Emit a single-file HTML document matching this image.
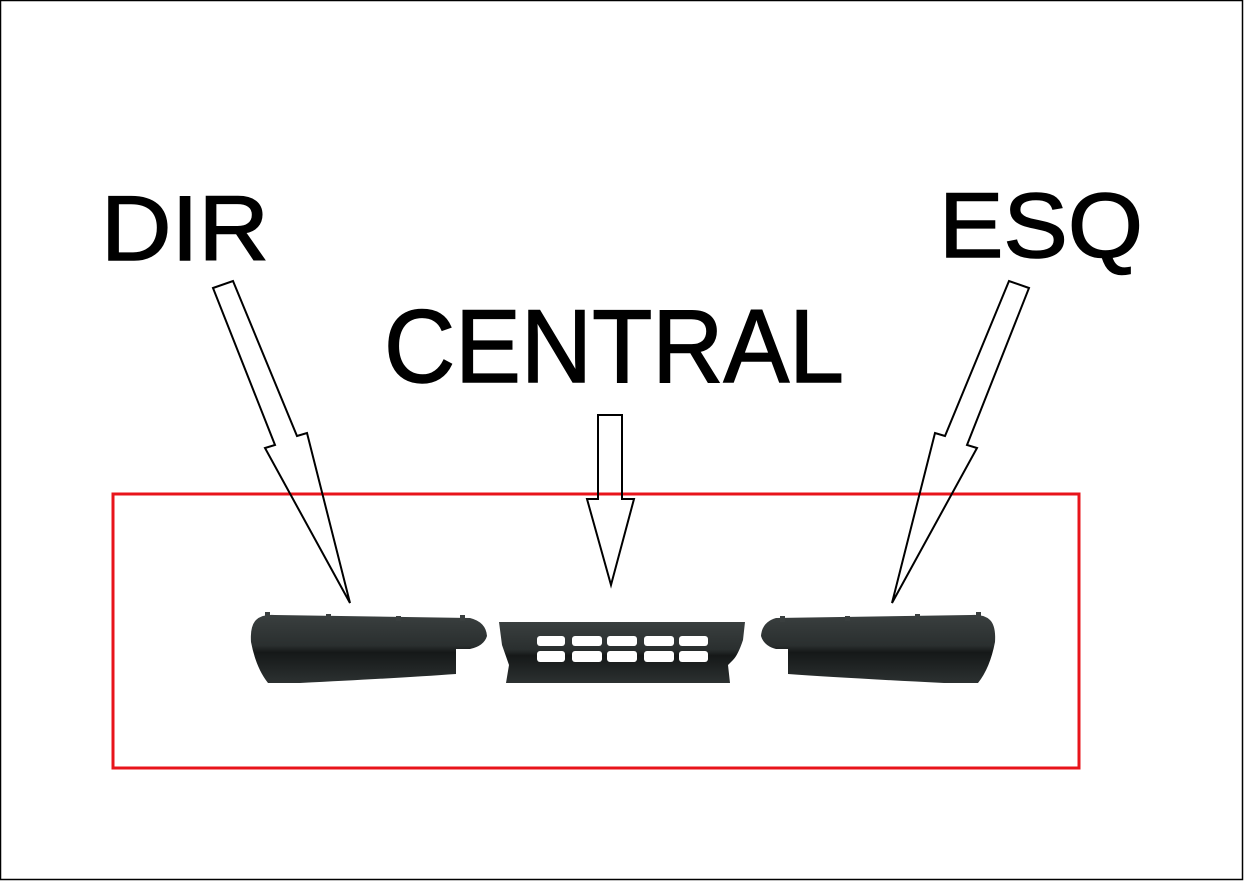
<!DOCTYPE html>
<html><head><style>html,body{margin:0;padding:0;background:#fff}svg{display:block}</style></head>
<body>
<svg width="1244" height="881" viewBox="0 0 1244 881" xmlns="http://www.w3.org/2000/svg">
<defs>
<linearGradient id="g" x1="0" y1="0" x2="0" y2="1">
<stop offset="0" stop-color="#3a3f3f"/><stop offset="0.45" stop-color="#2a2f2f"/><stop offset="0.55" stop-color="#151818"/><stop offset="1" stop-color="#2c3131"/>
</linearGradient>
</defs>
<rect x="0.5" y="0.5" width="1242" height="879" fill="#fff" stroke="#000" stroke-width="1.5"/>
<g font-family="Liberation Sans, sans-serif" fill="#000" stroke="#000" stroke-width="1.5">
<text x="101" y="260" font-size="92" textLength="168" lengthAdjust="spacingAndGlyphs">DIR</text>
<text x="939" y="257" font-size="92" textLength="204" lengthAdjust="spacingAndGlyphs">ESQ</text>
<text x="384" y="382" font-size="104" textLength="460" lengthAdjust="spacingAndGlyphs">CENTRAL</text>
</g>
<rect x="113" y="494" width="966" height="274" fill="none" stroke="#e8141b" stroke-width="3"/>
<g fill="none" stroke="#000" stroke-width="2" stroke-linejoin="miter">
<polygon points="213,288 233,281 297,436 307,433 350,603 265,448 275,445"/>
<polygon points="1029,288 1009,281 945,436 935,433 892,603 977,448 967,445"/>
<polygon points="598,415 622,415 622,499 634,499 611,585 587,499 598,499"/>
</g>
<!-- left bumper -->
<path d="M256,620 Q262,614 275,615 L470,618 Q486,622 487,636 Q484,646 470,649 L456,649 L456,674 Q400,678 300,683 L268,683 Q256,668 251,642 Q250,626 256,620 Z" fill="url(#g)"/>
<g fill="#3a3f3f"><rect x="265" y="612" width="5" height="6"/><rect x="326" y="614" width="5" height="6"/><rect x="396" y="616" width="5" height="5"/><rect x="460" y="615" width="5" height="6"/></g>
<!-- right bumper -->
<path d="M990,620 Q984,614 971,615 L776,618 Q762,622 761,636 Q764,646 776,649 L788,649 L788,674 Q844,678 944,683 L978,683 Q990,668 995,642 Q996,626 990,620 Z" fill="url(#g)"/>
<g fill="#3a3f3f"><rect x="976" y="612" width="5" height="6"/><rect x="915" y="614" width="5" height="6"/><rect x="845" y="616" width="5" height="5"/><rect x="780" y="616" width="5" height="6"/></g>
<!-- central -->
<path d="M499,622 L745,622 L743,640 Q738,655 733,660 L728,665 L730,683 L506,683 L509,665 L502,645 Z" fill="url(#g)"/>
<g fill="#fff">
<rect x="537" y="636" width="28" height="10" rx="3"/><rect x="572" y="636" width="30" height="10" rx="3"/><rect x="607" y="636" width="30" height="10" rx="3"/><rect x="644" y="636" width="30" height="10" rx="3"/><rect x="679" y="636" width="29" height="10" rx="3"/>
<rect x="537" y="651" width="28" height="11" rx="3"/><rect x="572" y="651" width="30" height="11" rx="3"/><rect x="607" y="651" width="30" height="11" rx="3"/><rect x="644" y="651" width="30" height="11" rx="3"/><rect x="679" y="651" width="29" height="11" rx="3"/>
</g>
</svg>
</body></html>
